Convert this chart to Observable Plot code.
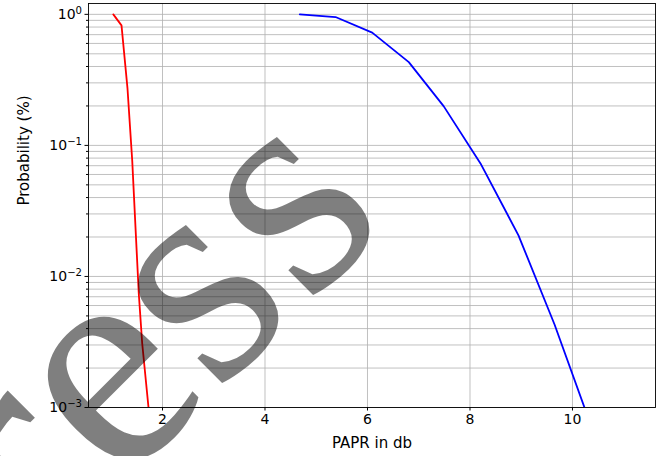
<!DOCTYPE html>
<html>
<head>
<meta charset="utf-8">
<script src="https://cdn.jsdelivr.net/npm/d3@7"></script>
<script src="https://cdn.jsdelivr.net/npm/@observablehq/plot@0.6"></script>
<style>
  html, body { margin: 0; padding: 0; background: #fff; }
  #wrap { position: relative; width: 662px; height: 456px; overflow: hidden; }
  #wm { position: absolute; left: 0; top: 0; pointer-events: none; }
</style>
</head>
<body>
<div id="wrap"></div>
<script>
// Red series (PAPR in dB vs probability)
const redX = [1.04, 1.20, 1.317, 1.409, 1.473, 1.537, 1.604, 1.727];
const redY = [1.0, 0.824, 0.272, 0.0768, 0.0237, 0.00741, 0.00308, 0.001];
// Blue series
const blueX = [4.679, 5.376, 6.092, 6.806, 7.489, 8.205, 8.946, 9.65, 10.36];
const blueY = [1.0, 0.954, 0.725, 0.432, 0.1985, 0.0729, 0.0206, 0.0043, 0.00073];
// Ticks
const xTicks = [2, 4, 6, 8, 10];
const yMajor = [1, 0.1, 0.01, 0.001];
const yMajorLabels = ["0", "−1", "−2", "−3"];
const yMinor = [0.002,0.003,0.004,0.005,0.006,0.007,0.008,0.009,
                0.02,0.03,0.04,0.05,0.06,0.07,0.08,0.09,
                0.2,0.3,0.4,0.5,0.6,0.7,0.8,0.9];
const xDomain = [0.556, 11.62];
const yDomain = [0.001, 1.21];
const xLabel = "PAPR in db";
const yLabel = "Probability (%)";
const watermarkLetters = ["r", "e", "s", "s"];

const red = redX.map((x, i) => ({x, y: redY[i]}));
const blue = blueX.map((x, i) => ({x, y: blueY[i]}));

const font = "DejaVu Sans, sans-serif";
const gridStyle = {stroke: "#b0b0b0", strokeOpacity: 1, strokeWidth: 0.8};

const chart = Plot.plot({
  width: 662,
  height: 456,
  marginLeft: 88,
  marginRight: 7,
  marginTop: 3,
  marginBottom: 49,
  style: {fontFamily: font, fontSize: "14px", background: "white", color: "black"},
  x: {domain: xDomain, label: null},
  y: {type: "log", domain: yDomain, label: null},
  marks: [
    Plot.gridY([...yMajor, ...yMinor], gridStyle),
    Plot.gridX(xTicks, gridStyle),
    Plot.line(red, {x: "x", y: "y", stroke: "#ff0000", strokeWidth: 1.8, clip: true}),
    Plot.line(blue, {x: "x", y: "y", stroke: "#0000ff", strokeWidth: 1.8, clip: true}),
    Plot.frame({stroke: "black", strokeWidth: 0.9}),
    Plot.axisX(xTicks, {tickSize: 3.5, tickPadding: 3, fontSize: 14, label: null, tickFormat: d => String(d)}),
    Plot.axisY(yMajor, {tickSize: 3.5, tickPadding: 3, fontSize: 14, label: null,
      tickFormat: d => "10" + yMajorLabels[yMajor.indexOf(d)]}),
    Plot.axisY(yMinor, {tickSize: 2, label: null, tickFormat: () => ""}),
    Plot.text([xLabel], {frameAnchor: "bottom", dy: 36, lineAnchor: "middle", fontSize: 15, text: d => d}),
    Plot.text([yLabel], {frameAnchor: "left", dx: -64, rotate: -90, lineAnchor: "middle", fontSize: 15, text: d => d})
  ]
});

// Render superscript exponents like matplotlib mathtext
d3.select(chart).selectAll('g[aria-label="y-axis tick label"] text').each(function() {
  const t = d3.select(this);
  const s = t.text();
  if (s.startsWith("10") && s.length > 2) {
    const exp = s.slice(2);
    t.text("10");
    t.append("tspan").attr("dy", "-0.45em").attr("font-size", "0.72em").text(exp);
  }
});

const wrap = document.getElementById("wrap");
wrap.appendChild(chart);

// Watermark overlay: letters laid along a rotated baseline
const wmSize = 310, wmAngle = -45;
const wmStart = [26, 478], wmStep = [91, -88];
const svg = d3.select(wrap).append("svg")
  .attr("id", "wm").attr("width", 662).attr("height", 456);
const g = svg.append("g")
  .style("font-family", "'Liberation Serif', 'Liberation Sans', serif")
  .attr("font-size", wmSize)
  .attr("fill", "black")
  .attr("fill-opacity", 0.5);
watermarkLetters.forEach((ch, i) => {
  const cx = wmStart[0] + wmStep[0] * i, cy = wmStart[1] + wmStep[1] * i;
  g.append("text")
    .attr("transform", `translate(${cx},${cy}) rotate(${wmAngle})`)
    .attr("text-anchor", "middle")
    .attr("y", wmSize * 0.23)
    .text(ch);
});
</script>
</body>
</html>
